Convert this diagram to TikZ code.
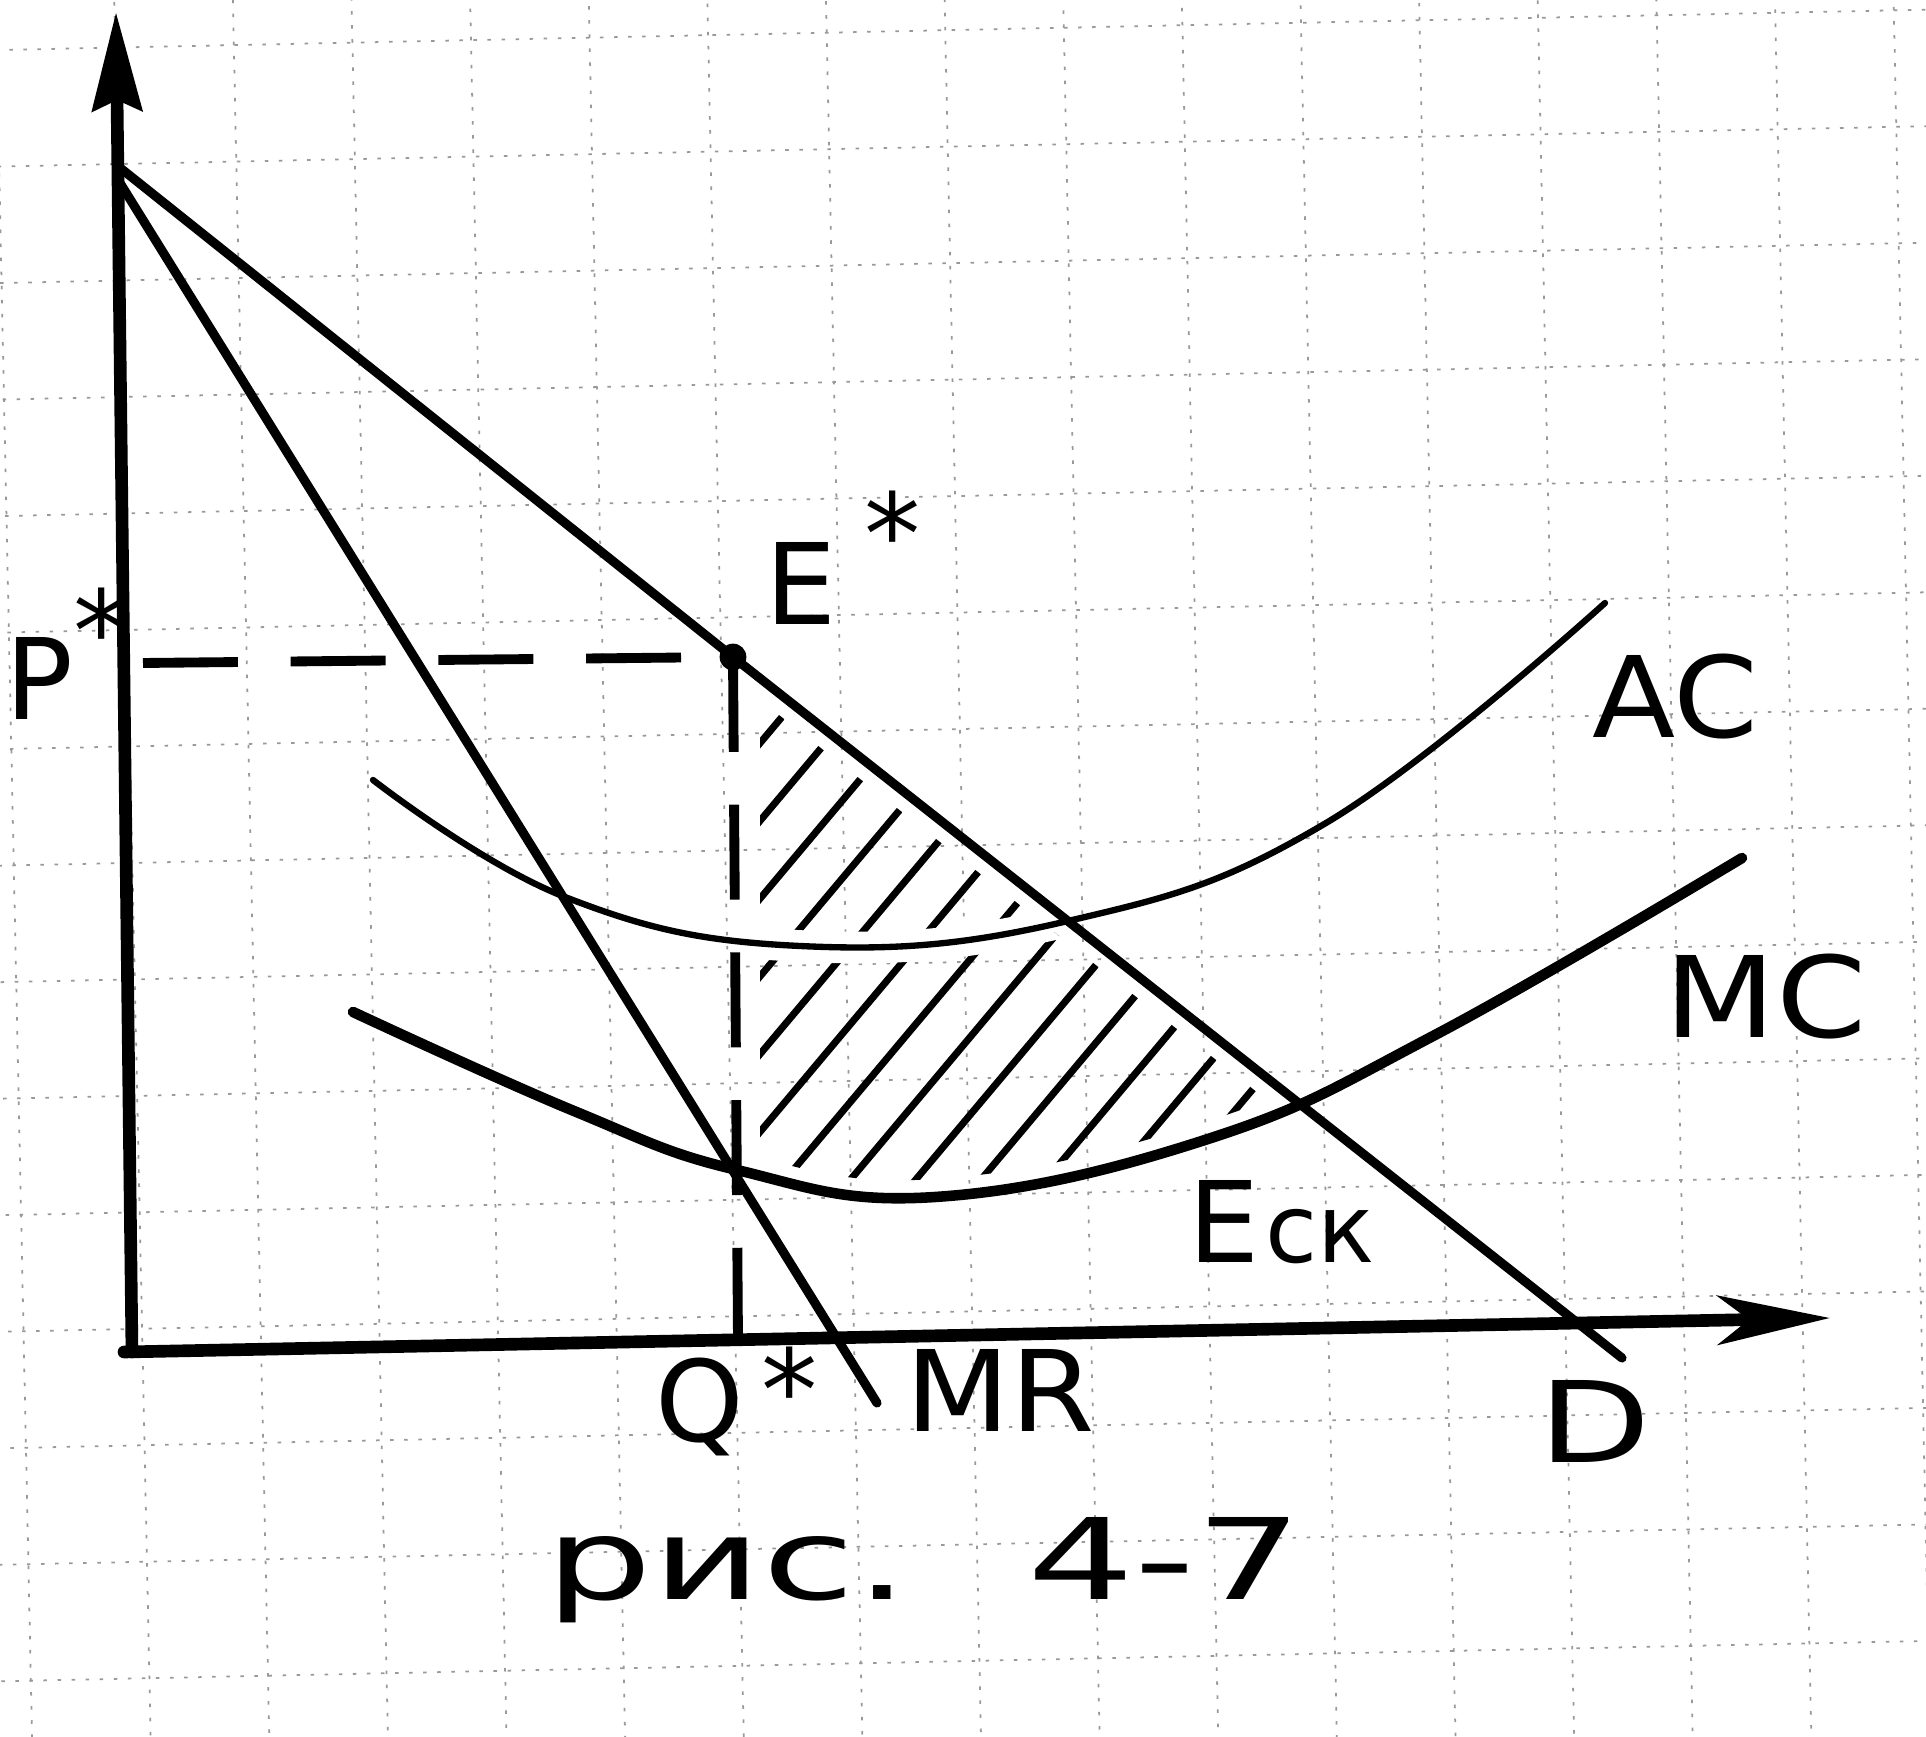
\documentclass[tikz,border=0pt]{standalone}
\usepackage{fontspec}
\setmainfont{DejaVu Sans}
\usepackage{graphicx}
\usetikzlibrary{arrows.meta}

\tikzset{
  axis/.style={line width=3.6pt, line cap=round},
  curve/.style={line width=2.6pt, line cap=round, line join=round},
  thincurve/.style={line width=1.8pt, line cap=round},
  guide/.style={line width=2.8pt, dash pattern=on 27pt off 15pt},
  hatchline/.style={line width=2pt},
  gridline/.style={black!40, line width=0.5pt, dash pattern=on 1pt off 3pt},
  lbl/.style={inner sep=0pt, anchor=base west, font=\fontsize{32}{36}\selectfont},
}

\begin{document}
\begin{tikzpicture}[x=0.01cm, y=-0.01cm]
    \useasboundingbox (0,0) rectangle (1926,1737);
    \fill[white] (0,0) rectangle (1926,1737);
    % squared paper
    \begin{scope}
        \clip (0,0) rectangle (1926,1737);
        \begin{scope}[rotate around={1.2:(963,868)}]
            \foreach \gx in {0,...,16}
                \draw[gridline] ({14+118.6*\gx},-100) -- ({14+118.6*\gx},1850);
            \foreach \gy in {0,...,15}
                \draw[gridline] (-100,{30+116.5*\gy}) -- (2030,{30+116.5*\gy});
        \end{scope}
    \end{scope}

    \coordinate (O) at (132,1352);
    \coordinate (Ytip) at (116,12);
    \coordinate (Xstart) at (124,1352);
    \coordinate (Xtip) at (1830,1318);
    \coordinate (A) at (119,167);
    \coordinate (Estar) at (733,657);
    \coordinate (Dend) at (1622,1358);
    \coordinate (MRtop) at (120,183);
    \coordinate (MRend) at (877,1403);
    \coordinate (Pdash) at (143,663);
    \coordinate (Qaxis) at (738,1340);

    \def\acpts{(373,780) (565,897) (800,946) (1068,921) (1326,823) (1605,603)}
    \def\mcpts{(353,1012) (574,1111) (737,1170) (935,1197) (1208,1139) (1435,1035) (1742,858)}

    % profit area
    \begin{scope}
        \clip (760,700) -- (1500,1284) -- (1500,1500) -- (760,1500) -- cycle;
        \clip[shift={(0,-18)}] plot[smooth, tension=0.7] coordinates {\mcpts} -- (1742,0) -- (353,0) -- cycle;
        \foreach \c in {1010,1060,...,1660}
            \draw[hatchline] ({(\c-0.643*600)/0.766},600) -- ({(\c-0.643*1300)/0.766},1300);
        \draw[white, line width=9pt] plot[smooth, tension=0.7] coordinates {\acpts};
    \end{scope}

    % axes
    \draw[axis, -{Stealth[length=28pt, width=14pt, inset=3pt]}] (O) -- (Ytip);
    \draw[axis, -{Stealth[length=32pt, width=14pt, inset=9pt]}] (Xstart) -- (Xtip);

    % AC and MC
    \draw[thincurve] plot[smooth, tension=0.7] coordinates {\acpts};
    \draw[curve, line width=3pt] plot[smooth, tension=0.7] coordinates {\mcpts};

    % D and MR
    \draw[curve] (A) -- (Estar) -- (Dend);
    \draw[curve] (MRtop) -- (MRend);

    % P* and Q*
    \draw[guide] (Pdash) -- (Estar);
    \draw[guide] (Estar) -- (Qaxis);
    \fill (Estar) circle[radius=3.8pt];

    \node[lbl] (Plbl) at (5,720) {P\raisebox{0.43em}{*}};
    \node[lbl] (Elbl) at (765,625) {E\kern0.25em\raisebox{0.45em}{*}};
    \node[lbl] (AClbl) at (1592,738) {\scalebox{1.08}[1]{AC}};
    \node[lbl] (MClbl) at (1664,1038) {\scalebox{1.15}[1]{MC}};
    \node[lbl] (Ecklbl) at (1188,1263) {E\kern0.05em{\fontsize{27}{30}\selectfont ск}};
    \node[lbl] (Qlbl) at (655,1442) {Q\kern0.15em\raisebox{0.1em}{*}};
    \node[lbl] (MRlbl) at (905,1432) {\scalebox{1.08}[1]{MR}};
    \node[lbl] (Dlbl) at (1538,1462) {\scalebox{1.3}[1]{D}};
    \node[lbl] (caption) at (545,1600) {\scalebox{1.5}[1]{рис.\hspace{0.7em}4-7}};
\end{tikzpicture}
\end{document}
